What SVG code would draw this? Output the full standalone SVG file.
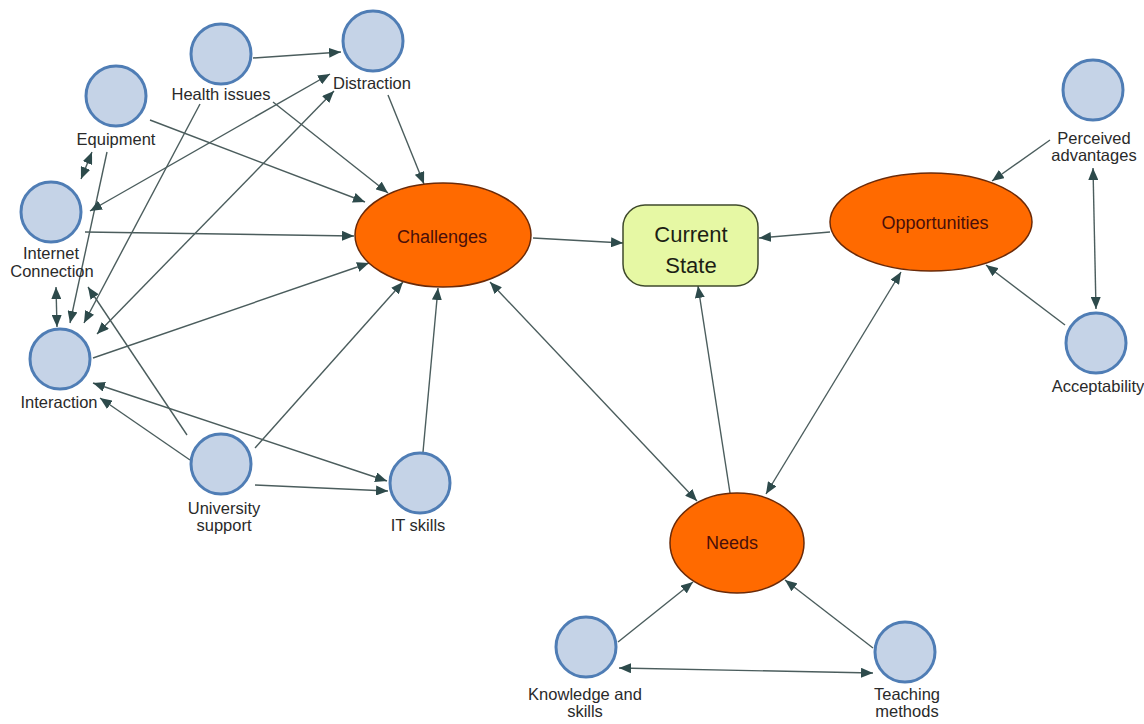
<svg xmlns="http://www.w3.org/2000/svg" width="1144" height="724" viewBox="0 0 1144 724">
<style>
.c{fill:#c5d3e7;stroke:#4f7db5;stroke-width:3}
.e{fill:#ff6a00;stroke:#6b2a08;stroke-width:1.5}
.lbl{font-family:"Liberation Sans",Arial,sans-serif;font-size:16.5px;fill:#2a2a2a;text-anchor:middle}
.big{font-family:"Liberation Sans",Arial,sans-serif;font-size:18px;fill:#4a0f0a;text-anchor:middle}
.cs{font-family:"Liberation Sans",Arial,sans-serif;font-size:22px;fill:#1c1f14;text-anchor:middle}
#edges path{fill:none;stroke:#4b5d5d;stroke-width:1.4}
</style>
<defs>
<marker id="a" viewBox="0 0 10 10" refX="10" refY="5" markerWidth="12" markerHeight="10" markerUnits="userSpaceOnUse" orient="auto-start-reverse" preserveAspectRatio="none">
<path d="M0,0 L10,5 L0,10 z" fill="#2d4a4b"/>
</marker>
</defs>
<rect width="1144" height="724" fill="#ffffff"/>
<g id="edges">
<path d="M253,58 L341,52" marker-end="url(#a)"/>
<path d="M200,104 L84,323" marker-end="url(#a)"/>
<path d="M273,102 L388,193" marker-end="url(#a)"/>
<path d="M388,95 L424,184" marker-end="url(#a)"/>
<path d="M150,120 L365,202" marker-end="url(#a)"/>
<path d="M107,152 L70,323" marker-end="url(#a)"/>
<path d="M92,152 L81,179" marker-start="url(#a)" marker-end="url(#a)"/>
<path d="M90,211 L330,74" marker-start="url(#a)" marker-end="url(#a)"/>
<path d="M97,334 L334,91" marker-start="url(#a)" marker-end="url(#a)"/>
<path d="M85,232 L354,236" marker-end="url(#a)"/>
<path d="M56,287 L57,327" marker-start="url(#a)" marker-end="url(#a)"/>
<path d="M93,358 L369,263" marker-end="url(#a)"/>
<path d="M93,383 L387,481" marker-start="url(#a)" marker-end="url(#a)"/>
<path d="M190,460 L100,398" marker-end="url(#a)"/>
<path d="M187,435 L88,287" marker-end="url(#a)"/>
<path d="M255,448 L403,282" marker-end="url(#a)"/>
<path d="M255,485 L388,491" marker-end="url(#a)"/>
<path d="M423,452 L438,288" marker-end="url(#a)"/>
<path d="M490,282 L697,501" marker-start="url(#a)" marker-end="url(#a)"/>
<path d="M533,238 L623,243" marker-end="url(#a)"/>
<path d="M830,232 L759,238" marker-end="url(#a)"/>
<path d="M730,493 L698,286" marker-end="url(#a)"/>
<path d="M766,494 L901,272" marker-start="url(#a)" marker-end="url(#a)"/>
<path d="M1050,140 L992,181" marker-end="url(#a)"/>
<path d="M1093,168 L1096,309" marker-start="url(#a)" marker-end="url(#a)"/>
<path d="M1065,325 L986,265" marker-end="url(#a)"/>
<path d="M618,642 L693,582" marker-end="url(#a)"/>
<path d="M873,648 L785,580" marker-end="url(#a)"/>
<path d="M619,668 L873,673" marker-start="url(#a)" marker-end="url(#a)"/>
</g>
<g id="health"><circle class="c" cx="221" cy="54" r="30"/><text class="lbl" x="221" y="100">Health issues</text></g>
<g id="distraction"><circle class="c" cx="373" cy="41" r="30"/><text class="lbl" x="372" y="89">Distraction</text></g>
<g id="equipment"><circle class="c" cx="116" cy="96" r="30"/><text class="lbl" x="116" y="145">Equipment</text></g>
<g id="internet"><circle class="c" cx="51" cy="212" r="30"/><text class="lbl" x="51" y="259">Internet</text><text class="lbl" x="52" y="277">Connection</text></g>
<g id="interaction"><circle class="c" cx="60" cy="359" r="30"/><text class="lbl" x="59" y="408">Interaction</text></g>
<g id="university"><circle class="c" cx="221" cy="464" r="30"/><text class="lbl" x="224" y="514">University</text><text class="lbl" x="224" y="531">support</text></g>
<g id="itskills"><circle class="c" cx="420" cy="483" r="30"/><text class="lbl" x="418" y="531">IT skills</text></g>
<g id="perceived"><circle class="c" cx="1093" cy="90" r="30"/><text class="lbl" x="1094" y="144">Perceived</text><text class="lbl" x="1094" y="161">advantages</text></g>
<g id="acceptability"><circle class="c" cx="1096" cy="343" r="30"/><text class="lbl" x="1098" y="392">Acceptability</text></g>
<g id="knowledge"><circle class="c" cx="586" cy="647" r="30"/><text class="lbl" x="585" y="700">Knowledge and</text><text class="lbl" x="585" y="717">skills</text></g>
<g id="teaching"><circle class="c" cx="905" cy="652" r="30"/><text class="lbl" x="907" y="700">Teaching</text><text class="lbl" x="907" y="717">methods</text></g>
<g id="challenges"><ellipse class="e" cx="443" cy="235" rx="88" ry="52"/><text class="big" x="442" y="243">Challenges</text></g>
<g id="opportunities"><ellipse class="e" cx="931" cy="222" rx="101" ry="49"/><text class="big" x="935" y="229">Opportunities</text></g>
<g id="needs"><ellipse class="e" cx="737" cy="543" rx="67" ry="50"/><text class="big" x="732" y="549">Needs</text></g>
<g id="current"><rect x="623" y="205" width="135" height="81" rx="22" fill="#e6f8a4" stroke="#3f4a2c" stroke-width="1.5"/><text class="cs" x="691" y="242">Current</text><text class="cs" x="691" y="273">State</text></g>
</svg>
